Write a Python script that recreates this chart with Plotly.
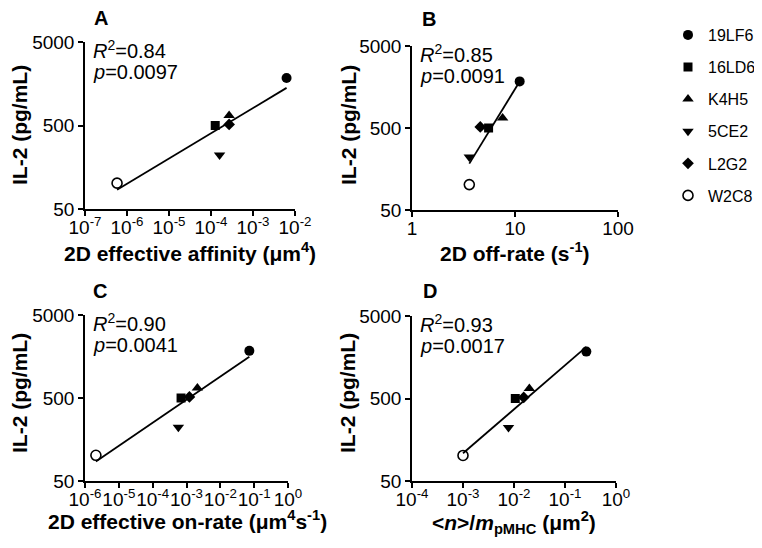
import numpy as np
import plotly.graph_objects as go

clones = ["19LF6", "16LD6", "K4H5", "5CE2", "L2G2", "W2C8"]
il2 = [1850, 500, 660, 222, 515, 102]
affinity_2d = [6.3e-3, 1.26e-4, 2.7e-4, 1.6e-4, 2.7e-4, 5.8e-7]
off_rate_2d = [11.1, 5.54, 7.58, 3.6, 4.6, 3.6]
on_rate_2d = [7.2e-2, 6.9e-4, 2.1e-3, 5.75e-4, 1.22e-3, 2.1e-6]
n_over_m = [0.262, 0.0106, 0.020, 7.8e-3, 0.0155, 1.0e-3]

panel_letters = ["A", "B", "C", "D"]
r2_texts = ["0.84", "0.85", "0.90", "0.93"]
p_texts = ["0.0097", "0.0091", "0.0041", "0.0017"]
x_titles = [
    "2D effective affinity (\u03bcm<sup>4</sup>)",
    "2D off-rate (s<sup>-1</sup>)",
    "2D effective on-rate (\u03bcm<sup>4</sup>s<sup>-1</sup>)",
    "&lt;<i>n</i>&gt;/<i>m</i><sub>pMHC</sub> (\u03bcm<sup>2</sup>)",
]
y_title = "IL-2 (pg/mL)"
x_tick_exps = [list(range(-7, -1)), [0, 1, 2], list(range(-6, 1)), list(range(-4, 1))]
x_tick_labels = [
    ["10<sup>%d</sup>" % e for e in range(-7, -1)],
    ["1", "10", "100"],
    ["10<sup>%d</sup>" % e for e in range(-6, 1)],
    ["10<sup>%d</sup>" % e for e in range(-4, 1)],
]
y_ticks = [50, 500, 5000]
y_tick_labels = ["50", "500", "5000"]

symbols = ["circle", "square", "triangle-up", "triangle-down", "diamond", "circle"]
fills = ["black", "black", "black", "black", "black", "white"]
sizes = [10, 9, 10, 10, 9, 10]

FONT = "Liberation Sans, Arial, sans-serif"
OFF = 8  # default page body margin
W, H = 762 - OFF, 548 - OFF


def px(x):
    return (x - OFF) / W


def py(y):
    return 1 - (y - OFF) / H


# pixel layouts in the reference (left, right, top, bottom)
boxes = [(85, 295, 42, 209), (412, 618, 46, 210), (85, 288, 315, 481), (412, 616, 316, 481)]
xranges = [[-7, -2], [0, 2], [-6, 0], [-4, 0]]
xtitle_pos = [(190, 252), (515, 252), (187, 520), (514, 522)]
ytitle_pos = [(19, 125), (348, 125), (20, 393), (348, 393)]
letter_pos = [(101, 18), (429, 19), (100, 291), (430, 291)]

xdata = [affinity_2d, off_rate_2d, on_rate_2d, n_over_m]

fig = go.Figure()
layout = {}
annotations = []
for k in range(4):
    xa = "x" if k == 0 else "x%d" % (k + 1)
    ya = "y" if k == 0 else "y%d" % (k + 1)
    xs = xdata[k]
    for i, c in enumerate(clones):
        fig.add_trace(go.Scatter(
            x=[xs[i]], y=[il2[i]], mode="markers", name=c,
            legendgroup=c, showlegend=(k == 0),
            marker=dict(symbol=symbols[i], size=sizes[i], color=fills[i],
                        line=dict(color="black", width=1.6 if fills[i] == "white" else 0)),
            xaxis=xa, yaxis=ya,
        ))
    lx = np.log10(xs)
    ly = np.log10(il2)
    slope, icpt = np.polyfit(lx, ly, 1)
    fx = np.array([lx.min(), lx.max()])
    fig.add_trace(go.Scatter(
        x=10 ** fx, y=10 ** (icpt + slope * fx), mode="lines",
        line=dict(color="black", width=1.8), showlegend=False,
        xaxis=xa, yaxis=ya,
    ))
    L, R, T, B = boxes[k]
    axis_common = dict(
        type="log", showline=True, linecolor="black", linewidth=1.5,
        ticks="outside", ticklen=5, tickwidth=1.5, tickcolor="black",
        showgrid=False, zeroline=False, automargin=False, tickangle=0,
        tickfont=dict(family=FONT, size=19, color="black"),
    )
    layout["xaxis" if k == 0 else "xaxis%d" % (k + 1)] = dict(
        axis_common, domain=[px(L), px(R)], anchor=ya, range=xranges[k],
        tickvals=[10 ** e for e in x_tick_exps[k]], ticktext=x_tick_labels[k],
        ticklabelstandoff=-5,
    )
    layout["yaxis" if k == 0 else "yaxis%d" % (k + 1)] = dict(
        axis_common, domain=[py(B), py(T)], anchor=xa,
        range=[np.log10(50), np.log10(5000)],
        tickvals=y_ticks, ticktext=y_tick_labels,
    )
    tx, ty = xtitle_pos[k]
    annotations.append(dict(
        text="<b>" + x_titles[k] + "</b>", xref="paper", yref="paper",
        x=px(tx), y=py(ty), xanchor="center", yanchor="middle", showarrow=False,
        font=dict(family=FONT, size=21, color="black"),
    ))
    tx, ty = ytitle_pos[k]
    annotations.append(dict(
        text="<b>" + y_title + "</b>", xref="paper", yref="paper", textangle=-90,
        x=px(tx), y=py(ty), xanchor="center", yanchor="middle", showarrow=False,
        font=dict(family=FONT, size=21, color="black"),
    ))
    tx, ty = letter_pos[k]
    annotations.append(dict(
        text="<b>%s</b>" % panel_letters[k], xref="paper", yref="paper",
        x=px(tx), y=py(ty), xanchor="center", yanchor="middle",
        showarrow=False, font=dict(family=FONT, size=20, color="black"),
    ))
    annotations.append(dict(
        text="<i>R</i><sup>2</sup>=%s" % r2_texts[k],
        xref="paper", yref="paper", x=px(L + 6), y=py(T + 7),
        xanchor="left", yanchor="middle", showarrow=False,
        font=dict(family=FONT, size=20, color="black"),
    ))
    annotations.append(dict(
        text="<i>p</i>=%s" % p_texts[k],
        xref="paper", yref="paper", x=px(L + 6), y=py(T + 30),
        xanchor="left", yanchor="middle", showarrow=False,
        font=dict(family=FONT, size=20, color="black"),
    ))

fig.update_layout(
    width=W, height=H, margin=dict(l=0, r=0, t=0, b=0, autoexpand=False),
    paper_bgcolor="white", plot_bgcolor="white",
    font=dict(family=FONT, color="black"),
    annotations=annotations,
    legend=dict(x=px(668), y=py(18), xanchor="left", yanchor="top",
                font=dict(family=FONT, size=16, color="black"),
                traceorder="grouped", tracegroupgap=8.3,
                bgcolor="rgba(0,0,0,0)"),
    **layout,
)

fig.write_html("out.html")
